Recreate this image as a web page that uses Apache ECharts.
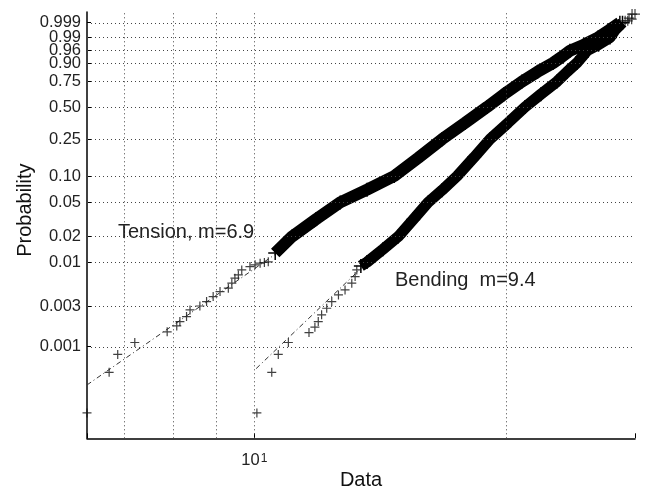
<!DOCTYPE html>
<html>
<head>
<meta charset="utf-8">
<script src="https://cdn.jsdelivr.net/npm/echarts@6/dist/echarts.min.js"></script>
<style>
  html, body { margin: 0; padding: 0; background: #fff; }
  #chart { width: 650px; height: 487px; }
</style>
</head>
<body>
<div id="chart"></div>
<script>
// axis setup (Weibull probability paper, log x)
const yTickProbs = [0.001, 0.003, 0.01, 0.02, 0.05, 0.10, 0.25, 0.50, 0.75, 0.90, 0.96, 0.99, 0.999]
const yTickLabels = ['0.001', '0.003', '0.01', '0.02', '0.05', '0.10', '0.25', '0.50', '0.75', '0.90', '0.96', '0.99', '0.999']
const xGridValues = [7, 8, 9, 10, 20]
const xRange = [6.314, 28.46]
const probRange = [8.21e-5, 0.999904]

// tension sample [data, probability]
const tensionTail = [
  [6.314, 1.64e-4], [6.71, 4.97e-4], [6.87, 8.1e-4], [7.20, 1.12e-3], [7.87, 1.50e-3],
  [8.08, 1.76e-3], [8.15, 1.98e-3], [8.30, 2.27e-3], [8.38, 2.72e-3], [8.61, 3.03e-3],
  [8.77, 3.42e-3], [8.93, 3.92e-3], [9.10, 4.49e-3], [9.31, 4.92e-3], [9.40, 5.64e-3],
  [9.48, 6.46e-3], [9.57, 7.07e-3], [9.66, 8.10e-3], [9.88, 8.87e-3], [10.02, 9.29e-3],
  [10.16, 9.73e-3], [10.28, 9.9e-3], [10.39, 1.008e-2]
]
const tensionBand = [
  [10.59, 0.0128], [11.09, 0.020], [11.85, 0.032], [12.66, 0.050], [13.63, 0.070],
  [14.69, 0.100], [15.68, 0.158], [16.75, 0.250], [17.84, 0.361], [18.96, 0.500],
  [19.86, 0.6255], [20.86, 0.750], [21.77, 0.836], [22.72, 0.900], [23.26, 0.9335],
  [23.80, 0.960], [24.74, 0.9774], [25.71, 0.990], [26.50, 0.9964], [27.3, 0.999]
]
const tensionTop = [[27.7, 0.9993], [28.0, 0.9996], [28.23, 0.99984]]

// bending sample
const bendingTail = [
  [10.07, 1.64e-4], [10.49, 4.97e-4], [10.68, 8.1e-4], [10.98, 1.12e-3], [11.62, 1.47e-3],
  [11.81, 1.70e-3], [11.92, 1.98e-3], [12.03, 2.38e-3], [12.20, 2.85e-3], [12.37, 3.42e-3],
  [12.60, 4.10e-3], [12.83, 4.70e-3], [13.07, 5.64e-3], [13.19, 6.75e-3], [13.25, 8.10e-3]
]
const bendingBand = [
  [13.40, 0.0090], [13.63, 0.010], [14.24, 0.0142], [14.85, 0.020], [15.47, 0.0316],
  [16.12, 0.050], [16.75, 0.069], [17.46, 0.100], [18.29, 0.161], [19.11, 0.250],
  [20.08, 0.362], [21.04, 0.500], [21.98, 0.626], [22.97, 0.750], [23.61, 0.836],
  [24.26, 0.900], [24.60, 0.9335], [24.95, 0.960], [25.75, 0.9774], [26.57, 0.990],
  [26.94, 0.9964], [27.5, 0.999]
]
const bendingTop = [[27.9, 0.9993], [28.2, 0.9995], [28.46, 0.99984]]

// fitted Weibull lines (end points)
const tensionFit = [[6.314, 3.52e-4], [12.0, 0.029]]
const bendingFit = [[10.05, 5.5e-4], [14.0, 0.0127]]

const FONT = 'Liberation Sans, Arial, sans-serif'
const PLUS = 'path://M0,5H10M5,0V10'

// weibull transform of probability
const wb = p => Math.log(-Math.log(1 - p))
const toXY = arr => arr.map(d => [d[0], wb(d[1])])
const yTickVals = yTickProbs.map(wb)

const chart = echarts.init(document.getElementById('chart'), null, { renderer: 'canvas' })

const markerSeries = (name, data, size) => ({
  name, type: 'scatter', data: toXY(data), symbol: PLUS, symbolSize: size, z: 4,
  itemStyle: { color: 'rgba(0,0,0,0)', borderColor: '#111', borderWidth: 1.2 }
})

const bandSeries = (name, data, width) => ({
  name, type: 'line', data: toXY(data), z: 3,
  symbol: PLUS, symbolSize: 14, showSymbol: true,
  lineStyle: { color: '#000', width: width },
  itemStyle: { color: 'rgba(0,0,0,0)', borderColor: '#000', borderWidth: 1.5 }
})

// horizontal grid lines carry the probability labels
const yGrid = yTickVals.map((v, i) => ({
  yAxis: v,
  label: {
    show: true, position: 'start', distance: 6, formatter: yTickLabels[i],
    fontSize: 16.5, color: '#222', fontFamily: FONT
  }
}))
const xGrid = xGridValues.map(v => ({ xAxis: v }))

const option = {
  animation: false,
  backgroundColor: '#fff',
  grid: { left: 87, right: 15, top: 12, bottom: 48.7, containLabel: false, outerBoundsMode: 'none' },
  xAxis: {
    type: 'log', logBase: 10, min: xRange[0], max: xRange[1],
    name: 'Data', nameLocation: 'middle', nameGap: 32, nameMoveOverlap: false,
    nameTextStyle: { fontSize: 20, color: '#111', fontFamily: FONT },
    axisLine: { onZero: false, lineStyle: { color: '#000', width: 1.5 } },
    axisTick: { inside: true, length: 5, lineStyle: { color: '#000' } },
    splitLine: { show: false },
    axisLabel: {
      margin: 14,
      formatter: v => Math.abs(v - 10) < 1e-6 ? '{a|10}{b|1}' : '',
      rich: {
        a: { fontSize: 16.5, color: '#222', fontFamily: FONT },
        b: { fontSize: 12, color: '#222', fontFamily: FONT, verticalAlign: 'top', padding: [0, 0, 0, 1] }
      }
    }
  },
  yAxis: {
    type: 'value', min: wb(probRange[0]), max: wb(probRange[1]),
    name: 'Probability', nameLocation: 'middle', nameRotate: 90, nameGap: 52, nameMoveOverlap: false,
    nameTextStyle: { fontSize: 20, color: '#111', fontFamily: FONT, padding: [0, 0, 0, 30] },
    axisLine: { show: true, onZero: false, lineStyle: { color: '#000', width: 1.5 } },
    axisTick: { show: true, inside: true, length: 4, customValues: yTickVals, lineStyle: { color: '#000' } },
    axisLabel: { show: false },
    splitLine: { show: false }
  },
  graphic: [
    { type: 'text', left: 118, top: 222, style: { text: 'Tension, m=6.9', font: '20px ' + FONT, fill: '#222' } },
    { type: 'text', left: 395, top: 270, style: { text: 'Bending  m=9.4', font: '20px ' + FONT, fill: '#222' } }
  ],
  series: [
    {
      name: 'tension fit', type: 'line', data: toXY(tensionFit), symbol: 'none', z: 1,
      lineStyle: { color: '#333', width: 1, type: [5, 3, 1, 3] },
      markLine: {
        silent: true, symbol: ['none', 'none'], label: { show: false },
        lineStyle: { color: '#444', width: 1, type: [1, 3] },
        data: yGrid.concat(xGrid)
      }
    },
    {
      name: 'bending fit', type: 'line', data: toXY(bendingFit), symbol: 'none', z: 2,
      lineStyle: { color: '#333', width: 1, type: [5, 3, 1, 3] }
    },
    bandSeries('tension band', tensionBand, 12),
    bandSeries('bending band', bendingBand, 11),
    markerSeries('tension', tensionTail, 9),
    markerSeries('tension top', tensionTop, 10),
    markerSeries('bending', bendingTail, 9),
    markerSeries('bending top', bendingTop, 10)
  ]
}

chart.setOption(option)
</script>
</body>
</html>
